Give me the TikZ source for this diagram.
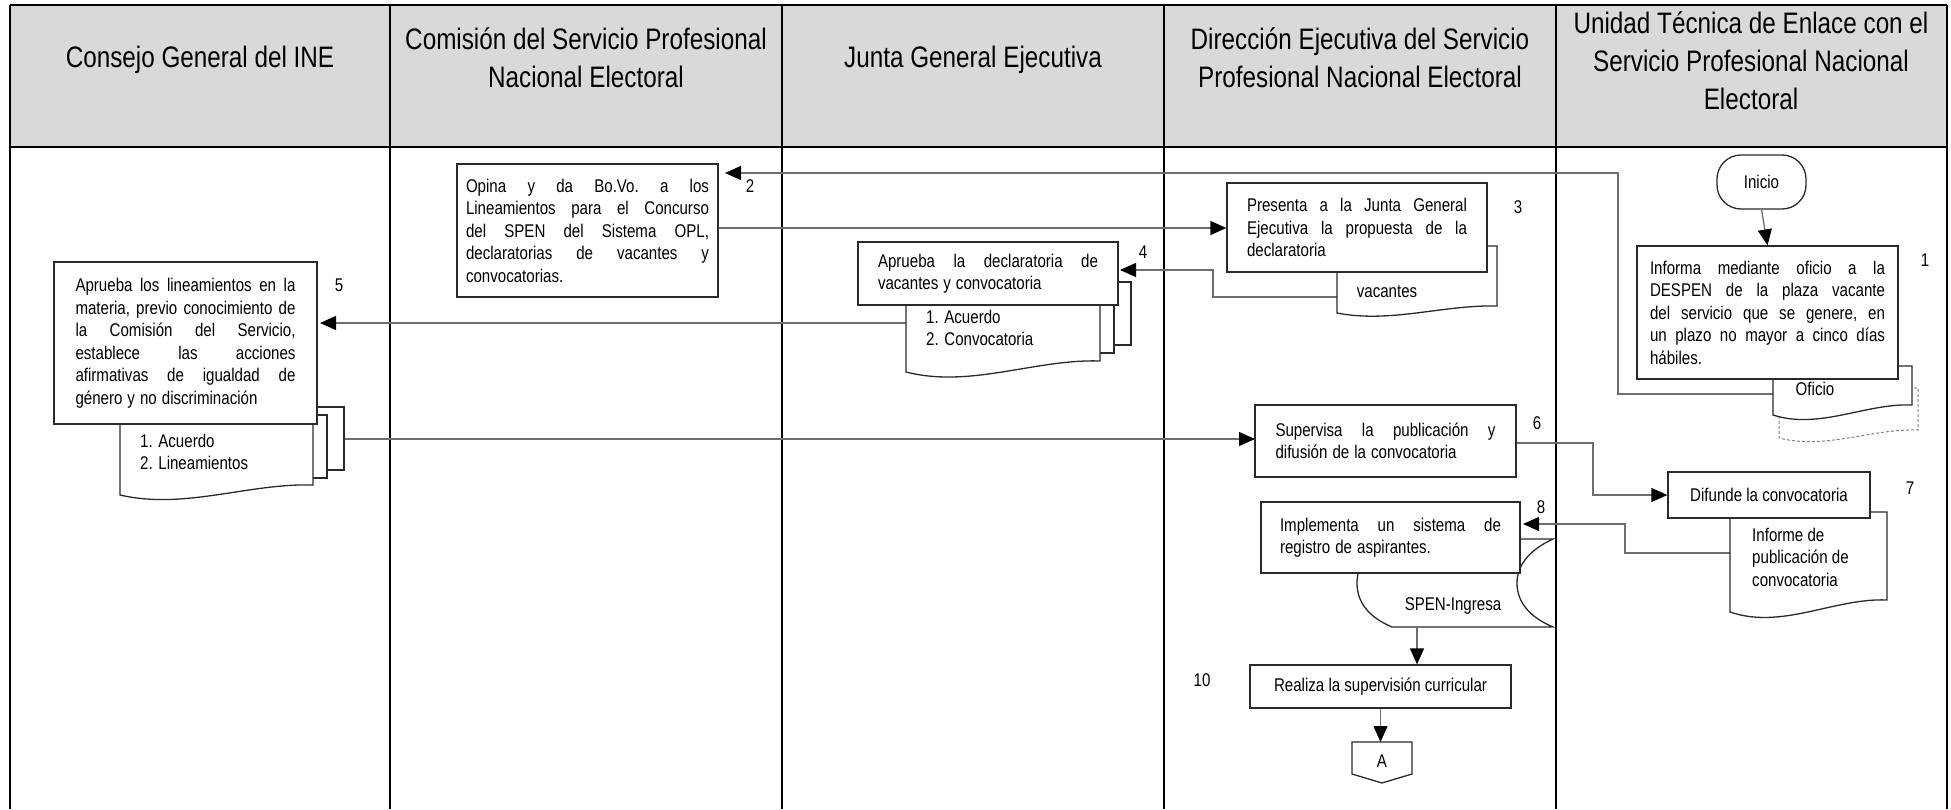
\documentclass[tikz,border=0pt]{standalone}
\usepackage{fontspec}
\usepackage{graphicx}
\setmainfont{Liberation Sans}
\usetikzlibrary{arrows.meta}
\definecolor{hdrgray}{HTML}{D9D9D9}
\definecolor{conngray}{HTML}{6E6E6E}
\definecolor{bordgray}{HTML}{2A2A2A}
% narrow (condensed) text: a line justified to #1 pt (words separated by \hfill), and a natural line
\newcommand\JB[2]{\leavevmode\scalebox{0.82}[1]{\hbox to 1.21951\dimexpr #1pt\relax{#2}}}
\newcommand\NB[1]{\scalebox{0.82}[1]{#1}}
\newcommand\docshape[6]{%
  \draw[#1] (#2,#3) -- (#4,#3) -- (#4,{#5-#6}) .. controls ({#2+2*(#4-#2)/3},{#5-1.2*#6}) and ({#2+(#4-#2)/3},{#5+1.5*#6}) .. (#2,#5) -- cycle;}
\begin{document}
\begin{tikzpicture}[x=1pt,y=-1pt,
  body/.style={font=\fontsize{18.4pt}{22.5pt}\selectfont},
  hdrtxt/.style={font=\fontsize{29.6pt}{38pt}\selectfont, align=center, inner sep=0pt},
  pbox/.style={draw=bordgray, line width=1.3pt, fill=white, body, inner sep=0pt, align=left},
  lbl/.style={body, inner sep=0pt},
  connline/.style={draw=conngray, line width=1.3pt},
  arr/.style={connline, -{Triangle[length=16pt,width=14pt,color=black]}},
  docst/.style={draw=bordgray, line width=1.3pt, fill=white},
  gridline/.style={draw=black, line width=1.8pt}
]
\useasboundingbox (0,0) rectangle (1951,809);
% header
\fill[hdrgray] (10,5) rectangle (1947,147);
\draw[gridline] (10,5) -- (1947,5);
\draw[gridline] (10,147) -- (1947,147);
\foreach \xx in {10,390,782,1164,1556,1947} {\draw[gridline] (\xx,5) -- (\xx,809);}
\node[hdrtxt] (h1) at (200,60) {\NB{Consejo General del INE}};
\node[hdrtxt] (h2) at (586,58) {\NB{Comisión del Servicio Profesional}\\\NB{Nacional Electoral}};
\node[hdrtxt] (h3) at (973,60) {\NB{Junta General Ejecutiva}};
\node[hdrtxt] (h4) at (1360,58) {\NB{Dirección Ejecutiva del Servicio}\\\NB{Profesional Nacional Electoral}};
\node[hdrtxt] (h5) at (1751,61) {\NB{Unidad Técnica de Enlace con el}\\\NB{Servicio Profesional Nacional}\\\NB{Electoral}};

% coordinates for connector ends
\coordinate (ofiW) at (1773,394);
\coordinate (c2b) at (1618,173);
\coordinate (c2e) at (725,173);
\coordinate (vacW) at (1337,297);
\coordinate (d3W) at (906,323);
\coordinate (d4E) at (344,439);
\coordinate (d5W) at (1730,553);
\coordinate (spenS) at (1417,627);
\coordinate (atop) at (1382,742);

% connectors (drawn beneath shapes)
\draw[arr] (ofiW) -| (c2b) -- (c2e);
\draw[arr] (vacW) -- (1213,297) -- (1213,270) -- (1120,270);
\draw[arr] (d3W) -- (320,323);
\draw[arr] (d4E) -- (1255,439);
\draw[arr] (d5W) -- (1625,553) -- (1625,524) -- (1523,524);

% documents
\docshape{docst, dashed, dash pattern=on 3pt off 2pt, draw=gray, line width=1pt}{1779}{388}{1918}{438}{8}
\docshape{docst}{1773}{366}{1912}{415}{10}
\node[lbl] (ofi) at (1815,389) {\NB{Oficio}};
\docshape{docst}{1337}{246}{1497}{313}{7}
\node[lbl] (vac) at (1387,292) {\NB{vacantes}};
\draw[docst] (936,282) rectangle (1131,345);
\draw[docst] (921,290) rectangle (1114,353);
\docshape{docst}{906}{298}{1100}{372}{11}
\node[lbl, anchor=west, align=left] (d3t) at (926,328) {\NB{1. Acuerdo}\\\NB{2. Convocatoria}};
\draw[docst] (150,407) rectangle (344,470);
\draw[docst] (135,415) rectangle (327,478);
\docshape{docst}{120}{423}{313}{495}{10}
\node[lbl, anchor=west, align=left] (d4t) at (140,452) {\NB{1. Acuerdo}\\\NB{2. Lineamientos}};
\docshape{docst}{1730}{512}{1887}{612}{12}
\node[lbl, anchor=west, align=left] (d5t) at (1752,557) {\NB{Informe de}\\\NB{publicación de}\\\NB{convocatoria}};
\draw[docst] (1392,539) -- (1553,539) .. controls (1527,551) and (1517,567) .. (1517,583) .. controls (1517,600) and (1527,616) .. (1553,627) -- (1392,627) .. controls (1366,616) and (1357,600) .. (1357,583) .. controls (1357,567) and (1366,551) .. (1392,539) -- cycle;
\node[lbl] (spen) at (1453,606) {\NB{SPEN-Ingresa}};

% process boxes
\node[pbox, minimum width=261pt, minimum height=133pt, text width=243pt] (opina) at (587.5,230.5)
 {\JB{243}{Opina\hfill y\hfill da\hfill Bo.Vo.\hfill a\hfill los}\\
  \JB{243}{Lineamientos\hfill para\hfill el\hfill Concurso}\\
  \JB{243}{del\hfill SPEN\hfill del\hfill Sistema\hfill OPL,}\\
  \JB{243}{declaratorias\hfill de\hfill vacantes\hfill y}\\
  \NB{convocatorias.}};
\node[pbox, minimum width=263pt, minimum height=162pt, text width=220pt] (aplin) at (185.5,343)
 {\JB{220}{Aprueba\hfill los\hfill lineamientos\hfill en\hfill la}\\
  \JB{220}{materia,\hfill previo\hfill conocimiento\hfill de}\\
  \JB{220}{la\hfill Comisión\hfill del\hfill Servicio,}\\
  \JB{220}{establece\hfill las\hfill acciones}\\
  \JB{220}{afirmativas\hfill de\hfill igualdad\hfill de}\\
  \NB{género y no discriminación}};
\node[pbox, minimum width=260pt, minimum height=89pt, text width=220pt] (pres) at (1357,227.5)
 {\JB{220}{Presenta\hfill a\hfill la\hfill Junta\hfill General}\\
  \JB{220}{Ejecutiva\hfill la\hfill propuesta\hfill de\hfill la}\\
  \NB{declaratoria}};
\node[pbox, minimum width=260pt, minimum height=63pt, text width=220pt] (apdec) at (988,273.5)
 {\JB{220}{Aprueba\hfill la\hfill declaratoria\hfill de}\\
  \NB{vacantes y convocatoria}};
\node[pbox, minimum width=261pt, minimum height=133pt, text width=235pt] (inf) at (1767.5,312.5)
 {\JB{235}{Informa\hfill mediante\hfill oficio\hfill a\hfill la}\\
  \JB{235}{DESPEN\hfill de\hfill la\hfill plaza\hfill vacante}\\
  \JB{235}{del\hfill servicio\hfill que\hfill se\hfill genere,\hfill en}\\
  \JB{235}{un\hfill plazo\hfill no\hfill mayor\hfill a\hfill cinco\hfill días}\\
  \NB{hábiles.}};
\node[pbox, minimum width=261pt, minimum height=72pt, text width=220pt] (sup) at (1385.5,441)
 {\JB{220}{Supervisa\hfill la\hfill publicación\hfill y}\\
  \NB{difusión de la convocatoria}};
\node[pbox, minimum width=259pt, minimum height=71pt, text width=221pt] (impl) at (1390.5,537.5)
 {\JB{221}{Implementa\hfill un\hfill sistema\hfill de}\\
  \NB{registro de aspirantes.}};
\node[pbox, minimum width=202pt, minimum height=46pt] (dif) at (1769,495) {\NB{Difunde la convocatoria}};
\node[pbox, minimum width=261pt, minimum height=43pt] (real) at (1380.5,686.5) {\NB{Realiza la supervisión curricular}};
\node[pbox, rounded corners=24pt, minimum width=89pt, minimum height=54pt] (ini) at (1761.5,182) {\NB{Inicio}};
\draw[docst] (1352,742) -- (1412,742) -- (1412,774) -- (1382,783) -- (1352,774) -- cycle;
\node[lbl] (pa) at (1382,761) {\NB{A}};

% connectors between boxes
\draw[arr] (ini.south) -- (inf.north);
\draw[arr] (opina.east |- 0,228) -- (pres.west |- 0,228);
\draw[arr] (sup.east |- 0,443) -- (1593,443) -- (1593,495) -- (dif.west);
\draw[arr] (spenS) -- (spenS |- real.north);
\draw[arr] (real.south) -- (real.south |- atop);

% step numbers
\node[lbl] (n1) at (1925,260) {\NB{1}};
\node[lbl] (n2) at (750,186) {\NB{2}};
\node[lbl] (n3) at (1518,207) {\NB{3}};
\node[lbl] (n4) at (1143,252) {\NB{4}};
\node[lbl] (n5) at (339,285) {\NB{5}};
\node[lbl] (n6) at (1537,423) {\NB{6}};
\node[lbl] (n7) at (1910,488) {\NB{7}};
\node[lbl] (n8) at (1541,507) {\NB{8}};
\node[lbl] (n10) at (1202,680) {\NB{10}};
\end{tikzpicture}
\end{document}
